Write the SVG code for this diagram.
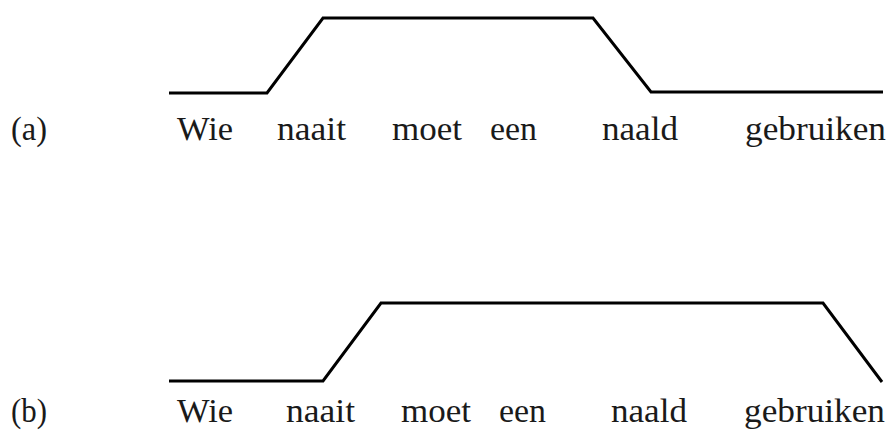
<svg xmlns="http://www.w3.org/2000/svg" width="890" height="430" viewBox="0 0 890 430">
<style>
.w{font-family:"Liberation Serif","DejaVu Serif",serif;font-size:33px;fill:#1a1a1a}
.c{fill:none;stroke:#000;stroke-width:3;stroke-linejoin:miter}
</style>
<rect width="890" height="430" fill="#fff"/>
<g id="contours">
<path class="c" d="M169,93 L267,93 L323,18 L593,18 L651,92 L883,92"/>
<path class="c" d="M169,381 L323,381 L381,303 L823,303 L882,382"/>
</g>
<g id="row-a">
<text class="w" x="11" y="140" textLength="36" lengthAdjust="spacingAndGlyphs">(a)</text>
<text class="w" x="177" y="140" textLength="56" lengthAdjust="spacingAndGlyphs">Wie</text>
<text class="w" x="277" y="140" textLength="69" lengthAdjust="spacingAndGlyphs">naait</text>
<text class="w" x="392" y="140" textLength="70" lengthAdjust="spacingAndGlyphs">moet</text>
<text class="w" x="490" y="140" textLength="47" lengthAdjust="spacingAndGlyphs">een</text>
<text class="w" x="602" y="140" textLength="76" lengthAdjust="spacingAndGlyphs">naald</text>
<text class="w" x="745" y="140" textLength="141" lengthAdjust="spacingAndGlyphs">gebruiken</text>
</g>
<g id="row-b">
<text class="w" x="11" y="422" textLength="36" lengthAdjust="spacingAndGlyphs">(b)</text>
<text class="w" x="177" y="422" textLength="56" lengthAdjust="spacingAndGlyphs">Wie</text>
<text class="w" x="286" y="422" textLength="69" lengthAdjust="spacingAndGlyphs">naait</text>
<text class="w" x="401" y="422" textLength="70" lengthAdjust="spacingAndGlyphs">moet</text>
<text class="w" x="499" y="422" textLength="47" lengthAdjust="spacingAndGlyphs">een</text>
<text class="w" x="611" y="422" textLength="76" lengthAdjust="spacingAndGlyphs">naald</text>
<text class="w" x="744" y="422" textLength="141" lengthAdjust="spacingAndGlyphs">gebruiken</text>
</g>
</svg>
